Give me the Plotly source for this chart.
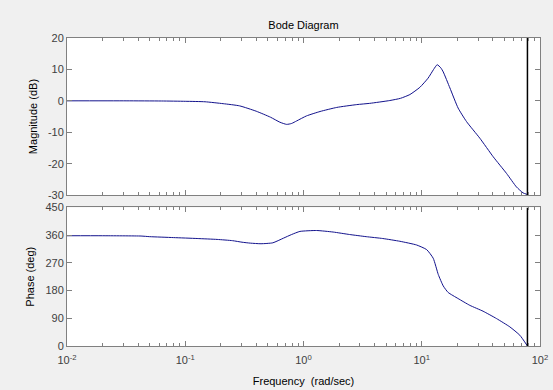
import plotly.graph_objects as go
from plotly.subplots import make_subplots

# ---- data ----
freq_mag = [0.01, 0.0316, 0.063, 0.1, 0.147, 0.209, 0.288, 0.398, 0.525, 0.631, 0.72, 0.794,
            0.875, 1.06, 1.38, 1.91, 2.82, 3.63, 5.37, 6.61, 7.94, 9.64, 11.3, 12.6, 13.5, 14.5,
            15.2, 17.3, 20.3, 23.9, 31.0, 40.2, 52.1, 63.2, 71.9, 77.8]
mag_db = [0, 0, -0.05, -0.15, -0.3, -0.9, -1.6, -3.3, -5.2, -6.8, -7.5, -7.2,
          -6.4, -4.8, -3.4, -2.1, -1.2, -0.8, 0.1, 0.8, 2.0, 4.3, 7.2, 10.0, 11.5, 10.5,
          9.2, 4.1, -2.3, -6.6, -11.9, -17.8, -23.1, -27.4, -29.3, -29.8]

freq_phase = [0.01, 0.02, 0.0423, 0.05, 0.0794, 0.126, 0.186, 0.251, 0.302, 0.355, 0.437, 0.55,
              0.676, 0.794, 0.933, 1.29, 1.78, 2.45, 3.39, 4.68, 6.53, 9.04, 11.0, 12.5, 13.8,
              15.2, 16.7, 20.3, 25.5, 33.0, 42.9, 55.6, 67.5, 78.3]
phase_deg = [358, 358, 357, 355, 352, 349, 346, 342, 337, 334, 332, 335,
             350, 362, 372, 375, 370, 362, 355, 349, 340, 328, 313, 285, 232,
             195, 174, 154, 132, 113, 89, 62, 35, 0]

marker_freq = 78.3

mag_ticks = [-30, -20, -10, 0, 10, 20]
mag_ticktext = ["-30", "-20", "-10", "0", "10", "20"]
phase_ticks = [0, 90, 180, 270, 360, 450]
phase_ticktext = ["0", "90", "180", "270", "360", "450"]
x_tickvals = [0.01, 0.1, 1, 10, 100]
x_ticktext = ["10<sup>-2</sup>", "10<sup>-1</sup>", "10<sup>0</sup>", "10<sup>1</sup>", "10<sup>2</sup>"]
minor_vals = [m * d for d in [0.01, 0.1, 1, 10] for m in range(2, 10)]

line_color = "#12128c"
frame_color = "#808080"
text_color = "#404040"
font_family = "Liberation Sans, Arial, sans-serif"

fig = make_subplots(rows=2, cols=1, shared_xaxes=False, vertical_spacing=0.04)

fig.add_trace(go.Scatter(x=freq_mag, y=mag_db, mode="lines",
                         line=dict(color=line_color, width=1, shape="spline", smoothing=0.5),
                         showlegend=False, hoverinfo="skip"), row=1, col=1)
fig.add_trace(go.Scatter(x=freq_phase, y=phase_deg, mode="lines",
                         line=dict(color=line_color, width=1, shape="spline", smoothing=0.5),
                         showlegend=False, hoverinfo="skip"), row=2, col=1)

# vertical marker line in both panels
fig.add_trace(go.Scatter(x=[marker_freq, marker_freq], y=[mag_ticks[0], mag_ticks[-1]], mode="lines",
                         line=dict(color="black", width=1.5), showlegend=False, hoverinfo="skip"),
              row=1, col=1)
fig.add_trace(go.Scatter(x=[marker_freq, marker_freq], y=[phase_ticks[0], phase_ticks[-1]], mode="lines",
                         line=dict(color="black", width=1.5), showlegend=False, hoverinfo="skip"),
              row=2, col=1)

common_x = dict(type="log", range=[-2, 2], tickvals=x_tickvals, ticks="inside", ticklen=5,
                tickcolor=frame_color, showline=True, linecolor=frame_color, linewidth=1,
                mirror="allticks", showgrid=False, zeroline=False, automargin=False,
                minor=dict(tickvals=minor_vals, ticks="inside", ticklen=3, tickcolor=frame_color,
                           showgrid=False))

fig.update_xaxes(**common_x, showticklabels=False, row=1, col=1)
fig.update_xaxes(**common_x, ticktext=x_ticktext, showticklabels=True, ticklabelstandoff=4,
                 tickfont=dict(family=font_family, size=11, color=text_color),
                 title=dict(text="Frequency  (rad/sec)", standoff=12,
                            font=dict(family=font_family, size=11, color="black")),
                 row=2, col=1)

common_y = dict(ticks="inside", ticklen=5, tickcolor=frame_color, showline=True,
                linecolor=frame_color, linewidth=1, mirror="allticks", showgrid=False,
                zeroline=False, automargin=False,
                tickfont=dict(family=font_family, size=11, color=text_color))
fig.update_yaxes(**common_y, range=[-30, 20], tickvals=mag_ticks, ticktext=mag_ticktext,
                 title=dict(text="Magnitude (dB)", standoff=8,
                            font=dict(family=font_family, size=11, color="black")),
                 domain=[0.49, 1.0], row=1, col=1)
fig.update_yaxes(**common_y, range=[0, 450], tickvals=phase_ticks, ticktext=phase_ticktext,
                 title=dict(text="Phase (deg)", standoff=8,
                            font=dict(family=font_family, size=11, color="black")),
                 domain=[0.0, 0.45], row=2, col=1)

fig.update_layout(
    width=553, height=390,
    margin=dict(l=67, r=13, t=38, b=44, autoexpand=False),
    paper_bgcolor="#f0f0f0", plot_bgcolor="white",
    title=dict(text="Bode Diagram", x=(67 + 540) / 2 / 553, xanchor="center", y=1 - 25 / 390,
               yanchor="middle", font=dict(family=font_family, size=11, color="black")),
)

fig.write_html("out.html", config={"displayModeBar": False},
               post_script="document.body.style.margin='0';document.body.style.background='#f0f0f0';")
